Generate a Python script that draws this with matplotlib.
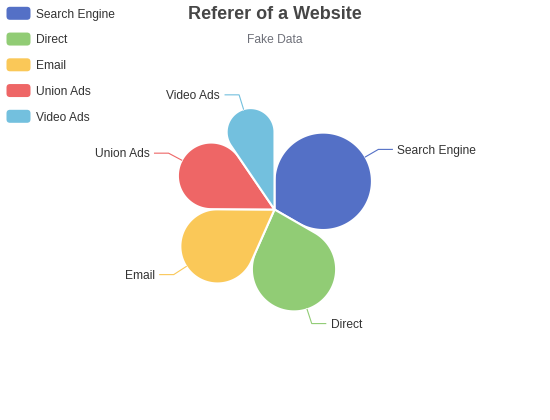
import numpy as np
import matplotlib
matplotlib.use('Agg')
import matplotlib.pyplot as plt
from matplotlib.path import Path
from matplotlib.patches import PathPatch, FancyBboxPatch

plt.rcParams['font.family'] = ['Liberation Sans', 'DejaVu Sans']

# data
names = ['Search Engine', 'Direct', 'Email', 'Union Ads', 'Video Ads']
values = [1048, 735, 580, 484, 300]
colors = ['#5470c6', '#91cc75', '#fac858', '#ee6666', '#73c0de']

title = 'Referer of a Website'
subtitle = 'Fake Data'

W, H = 550, 420
cx, cy = 274.5, 209.5   # pie centre (px)
R = 105                 # radius '50%'
corner = 52.5           # requested corner radius, clamped per slice


def pt(ang, rad, ox=cx, oy=cy):
    # angle in degrees, clockwise from 12 o'clock, pixel coords (y down)
    a = np.radians(ang)
    return ox + rad * np.sin(a), oy - rad * np.cos(a)


def arc(ox, oy, rad, a0, a1, n=60):
    angs = np.linspace(a0, a1, n)
    return [pt(a, rad, ox, oy) for a in angs]


def rounded_slice(a0, a1):
    half = np.radians((a1 - a0) / 2)
    c = min(corner, R * np.sin(half) / (1 + np.sin(half)))
    alpha = np.degrees(np.arcsin(c / (R - c)))
    verts = [(cx, cy)]
    # corner at the start edge
    ox, oy = pt(a0 + alpha, R - c)
    verts += arc(ox, oy, c, a0 - 90, a0 + alpha)
    # remaining outer arc
    if a1 - alpha > a0 + alpha:
        verts += arc(cx, cy, R, a0 + alpha, a1 - alpha)
    # corner at the end edge
    ox, oy = pt(a1 - alpha, R - c)
    verts += arc(ox, oy, c, a1 - alpha, a1 + 90)
    verts.append((cx, cy))
    codes = [Path.MOVETO] + [Path.LINETO] * (len(verts) - 2) + [Path.CLOSEPOLY]
    return Path(verts, codes)


fig = plt.figure(figsize=(W / 100, H / 100), dpi=100)
ax = fig.add_axes([0, 0, 1, 1])
ax.set_xlim(0, W)
ax.set_ylim(H, 0)
ax.axis('off')

total = sum(values)
start = 0.0
for name, v, col in zip(names, values, colors):
    span = v / total * 360
    a0, a1 = start, start + span
    ax.add_patch(PathPatch(rounded_slice(a0, a1), facecolor=col,
                           edgecolor='white', lw=1.5, joinstyle='round'))
    # label line
    mid = (a0 + a1) / 2
    x1, y1 = pt(mid, R)
    x2, y2 = pt(mid, R + 15)
    side = 1 if np.sin(np.radians(mid)) >= 0 else -1
    x3 = x2 + side * 14
    ax.plot([x1, x2, x3], [y1, y2, y2], color=col, lw=0.8,
            solid_joinstyle='miter')
    ax.text(x3 + side * 5, y2 + 4.3, name, fontsize=8.64, color='#333333',
            ha='left' if side > 0 else 'right', va='baseline')
    start = a1

# title
ax.text(W / 2, 19, title, fontsize=12.96, fontweight='bold', color='#464646',
        ha='center', va='baseline')
ax.text(W / 2, 43.3, subtitle, fontsize=8.64, color='#6e7079',
        ha='center', va='baseline')

# legend
for i, (name, col) in enumerate(zip(names, colors)):
    yc = 13.3 + i * 25.75
    ax.add_patch(FancyBboxPatch((6.5, yc - 6.5), 24, 13,
                                boxstyle='round,pad=0,rounding_size=3.5',
                                facecolor=col, edgecolor='none'))
    ax.text(36, yc + 4.3, name, fontsize=8.64, color='#333333',
            ha='left', va='baseline')

fig.savefig('out.png', dpi=100)
